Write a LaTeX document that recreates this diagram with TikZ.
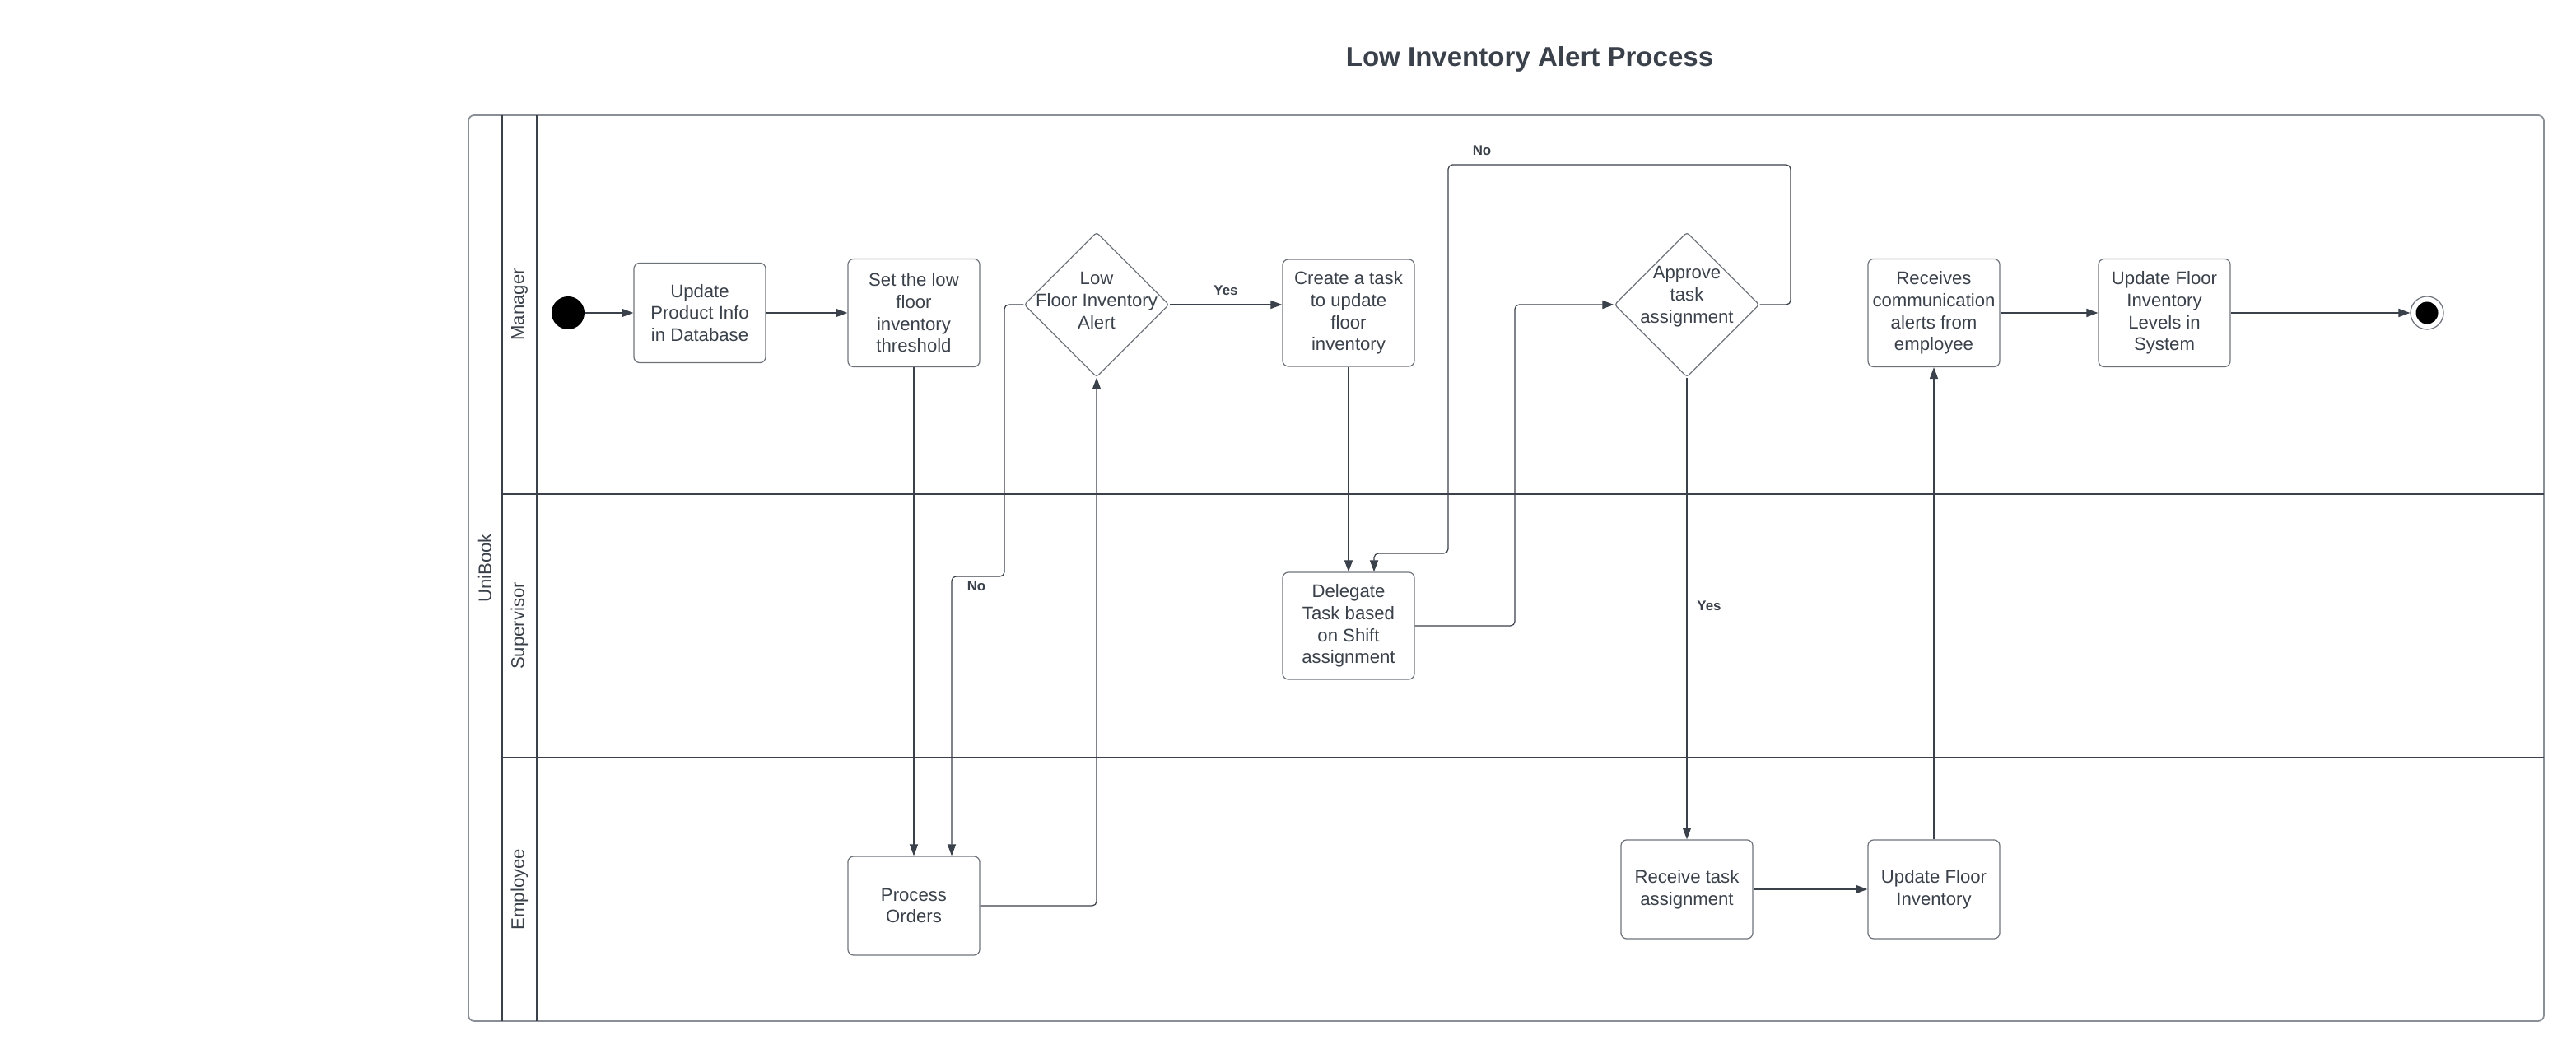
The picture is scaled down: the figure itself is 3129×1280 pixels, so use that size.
\documentclass[tikz,border=0pt]{standalone}
\usepackage{fontspec}
\setmainfont{Liberation Sans}
\usetikzlibrary{shapes.geometric,arrows.meta}
\definecolor{ink}{HTML}{3A414A}
\definecolor{boxline}{HTML}{6E737B}
\definecolor{frame}{HTML}{8A8F96}
\begin{document}
\begin{tikzpicture}[x=0.01cm,y=-0.01cm,
    every node/.style={text=ink},
    txt/.style={font=\fontsize{6.3pt}{7.6pt}\selectfont, align=center},
    activity/.style={txt, draw=boxline, line width=0.35pt, rounded corners=2pt, minimum width=1.6cm, minimum height=1.3cm, inner sep=1pt},
    decision/.style={draw=boxline, line width=0.35pt, diamond, rounded corners=1pt, minimum width=1.76cm, minimum height=1.76cm, inner sep=0pt},
    lbl/.style={font=\fontsize{4.8pt}{5.7pt}\selectfont\bfseries, inner sep=1pt},
    lane/.style={txt, rotate=90},
    flow/.style={draw=ink, line width=0.35pt, rounded corners=1.5pt, -{Triangle[length=4pt,width=2.9pt]}}]
    \useasboundingbox (0,0) rectangle (3129,1280);
    \node[font=\fontsize{9.4pt}{11pt}\selectfont\bfseries] (title) at (1858,72) {Low Inventory Alert Process};
    \draw[frame, line width=0.5pt, rounded corners=2pt] (569,140) rectangle (3090,1240);
    \draw[ink, line width=0.5pt] (610,140) -- (610,1240);
    \draw[ink, line width=0.5pt] (652,140) -- (652,1240);
    \draw[ink, line width=0.55pt] (610,600) -- (3090,600);
    \draw[ink, line width=0.55pt] (610,920) -- (3090,920);
    \node[lane] (pool) at (589,690) {UniBook};
    \node[lane] (mgr) at (631,370) {Manager};
    \node[lane] (sup) at (631,760) {Supervisor};
    \node[lane] (emp) at (631,1080) {Employee};
    \node[circle, fill=black, minimum size=0.4cm, inner sep=0pt] (start) at (690,380) {};
    \node[activity, minimum height=1.21cm] (upd) at (850,380) {Update\\Product Info\\in Database};
    \node[activity, minimum height=1.31cm] (thr) at (1110,380) {Set the low\\floor\\inventory\\threshold};
    \node[decision, label={[txt, yshift=0.05cm]center:{Low\\Floor Inventory\\Alert}}] (low) at (1332,370) {};
    \node[activity] (task) at (1638,380) {Create a task\\to update\\floor\\inventory};
    \node[activity] (dlg) at (1638,760) {Delegate\\Task based\\on Shift\\assignment};
    \node[decision, label={[txt, yshift=0.1cm]center:{Approve\\task\\assignment}}] (apr) at (2049,370) {};
    \node[activity, minimum height=1.31cm] (rcv) at (2349,380) {Receives\\communication\\alerts from\\employee};
    \node[activity, minimum height=1.31cm] (lvl) at (2629,380) {Update Floor\\Inventory\\Levels in\\System};
    \node[circle, draw=boxline, line width=0.35pt, fill=white, minimum size=0.4cm, inner sep=0pt] (stop) at (2948,380) {};
    \node[circle, fill=black, minimum size=0.27cm, inner sep=0pt] (stopdot) at (stop) {};
    \node[activity, minimum height=1.2cm] (proc) at (1110,1100) {Process\\Orders};
    \node[activity, minimum height=1.2cm] (rtask) at (2049,1080) {Receive task\\assignment};
    \node[activity, minimum height=1.2cm] (ufi) at (2349,1080) {Update Floor\\Inventory};
    \coordinate (noA) at (1156,700);
    \coordinate (noB) at (1669,672);
    \draw[flow] (start) -- (upd);
    \draw[flow] (upd) -- (thr);
    \draw[flow] (thr) -- (proc);
    \draw[flow] (low.west) -| (1220,700) -- (noA) -- (noA |- proc.north);
    \draw[flow] (proc.east) -| (low.south);
    \draw[flow] (low.east) -- node[lbl, above=2pt] (yesA) {Yes} (low.east -| task.west);
    \draw[flow] (task) -- (dlg);
    \draw[flow] (apr.east) -| (2175,200) -| (1759,672) -- (noB) -- (noB |- dlg.north);
    \draw[flow] (dlg.east) -| (1840,370) -- (apr.west);
    \draw[flow] (apr.south) -- (rtask);
    \draw[flow] (rtask) -- (ufi);
    \draw[flow] (ufi) -- (rcv);
    \draw[flow] (rcv) -- (lvl);
    \draw[flow] (lvl) -- (stop);
    \node[lbl] (noAlbl) at (1186,712) {No};
    \node[lbl] (noBlbl) at (1800,183) {No};
    \node[lbl] (yesB) at (2076,736) {Yes};
\end{tikzpicture}
\end{document}
